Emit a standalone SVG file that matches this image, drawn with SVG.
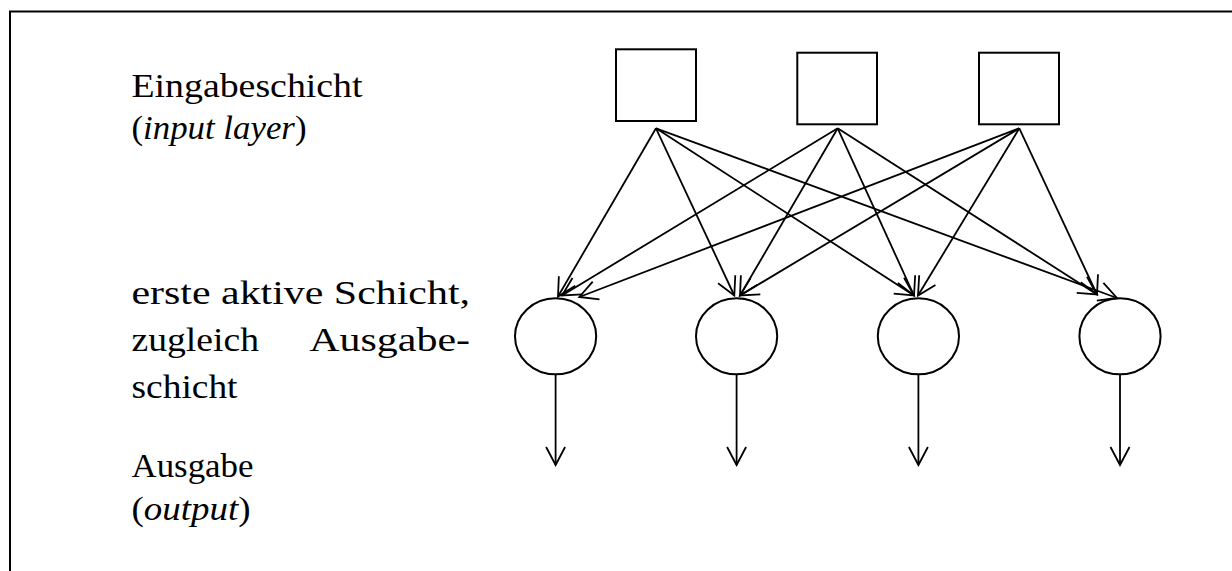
<svg xmlns="http://www.w3.org/2000/svg" width="1232" height="571" viewBox="0 0 1232 571">
<style>
.txt{font-family:"Liberation Serif","Times New Roman",serif;font-size:34px;fill:#000}
.it{font-style:italic}
.shape{fill:#fff;stroke:#000;stroke-width:2}
.conn line{stroke:#000;stroke-width:1.8;marker-end:url(#ah)}
</style>
<defs>
<marker id="ah" markerUnits="userSpaceOnUse" markerWidth="40" markerHeight="40" viewBox="-25 -20 30 40" refX="0" refY="0" orient="auto" overflow="visible">
<path d="M-18,-9.5 L0,0 L-18,9.5" fill="none" stroke="#000" stroke-width="1.8"/>
</marker>
</defs>
<rect width="1232" height="571" fill="#fff"/>
<path d="M10,580 V11.5 H1245" fill="none" stroke="#000" stroke-width="2"/>
<g id="labels">
<text class="txt" x="131.5" y="96.7" textLength="231" lengthAdjust="spacingAndGlyphs">Eingabeschicht</text>
<text class="txt" x="131.5" y="139.3" textLength="175" lengthAdjust="spacingAndGlyphs">(<tspan class="it">input layer</tspan>)</text>
<text class="txt" x="131.5" y="304" textLength="338.5" lengthAdjust="spacingAndGlyphs">erste aktive Schicht,</text>
<text class="txt" x="131.5" y="350.7" textLength="127.5" lengthAdjust="spacingAndGlyphs">zugleich</text>
<text class="txt" x="309.3" y="350.7" textLength="160.7" lengthAdjust="spacingAndGlyphs">Ausgabe-</text>
<text class="txt" x="131.5" y="398.3" textLength="106" lengthAdjust="spacingAndGlyphs">schicht</text>
<text class="txt" x="131.5" y="477" textLength="122" lengthAdjust="spacingAndGlyphs">Ausgabe</text>
<text class="txt" x="131.5" y="520" textLength="119" lengthAdjust="spacingAndGlyphs">(<tspan class="it">output</tspan>)</text>
</g>
<g id="in1"><rect class="shape" x="616" y="49.3" width="80" height="71.7"/></g>
<g id="in2"><rect class="shape" x="797.3" y="52.7" width="79.7" height="71.6"/></g>
<g id="in3"><rect class="shape" x="979" y="52.7" width="80" height="71.6"/></g>
<g id="out1"><ellipse class="shape" cx="555.6" cy="336.3" rx="40.6" ry="38"/></g>
<g id="out2"><ellipse class="shape" cx="736.6" cy="336.3" rx="40.6" ry="38"/></g>
<g id="out3"><ellipse class="shape" cx="918.4" cy="336.3" rx="40.6" ry="38"/></g>
<g id="out4"><ellipse class="shape" cx="1120" cy="336.3" rx="40.6" ry="38"/></g>
<g id="connectors" class="conn">
<line x1="656" y1="128.3" x2="558" y2="296.5"/>
<line x1="656" y1="128.3" x2="734.3" y2="295.5"/>
<line x1="656" y1="128.3" x2="914" y2="295.5"/>
<line x1="656" y1="128.3" x2="1117" y2="298"/>
<line x1="837.7" y1="128.3" x2="562" y2="295.5"/>
<line x1="837.7" y1="128.3" x2="740" y2="295.5"/>
<line x1="837.7" y1="128.3" x2="914" y2="295.5"/>
<line x1="837.7" y1="128.3" x2="1097" y2="294.5"/>
<line x1="1019.3" y1="128.3" x2="579.3" y2="297"/>
<line x1="1019.3" y1="128.3" x2="740" y2="295.5"/>
<line x1="1019.3" y1="128.3" x2="918" y2="295.5"/>
<line x1="1019.3" y1="128.3" x2="1097" y2="294.5"/>
<line x1="555.6" y1="374.3" x2="555.6" y2="465"/>
<line x1="736.6" y1="374.3" x2="736.6" y2="465"/>
<line x1="918.4" y1="374.3" x2="918.4" y2="465"/>
<line x1="1120" y1="374.3" x2="1120" y2="465"/>
</g>
</svg>
